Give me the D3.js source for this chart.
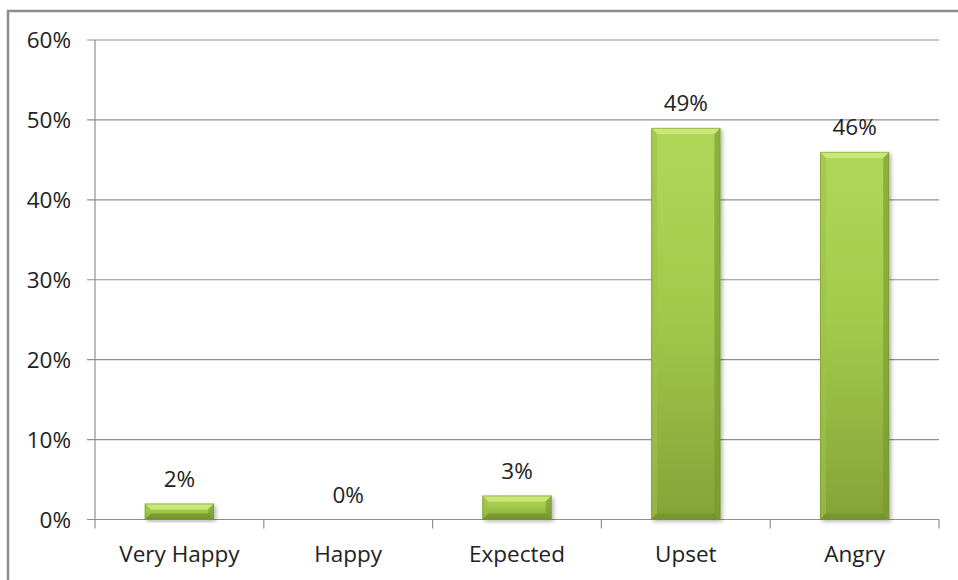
<!DOCTYPE html>
<html>
<head>
<meta charset="utf-8">
<script src="https://cdn.jsdelivr.net/npm/d3@7"></script>
<style>
  html, body { margin: 0; padding: 0; background: #fff; }
  svg { display: block; }
  text { font-family: "Open Sans", "Noto Sans", sans-serif; fill: #222; }
</style>
</head>
<body>
<svg id="chart" width="958" height="580"></svg>
<script>
// Survey responses: share of respondents per reaction
const categories = ["Very Happy", "Happy", "Expected", "Upset", "Angry"];
const shares = [2, 0, 3, 49, 46];
const valueLabels = ["2%", "0%", "3%", "49%", "46%"];
const yTicks = [0, 10, 20, 30, 40, 50, 60];

const svg = d3.select("#chart");
const plot = { left: 95, right: 939, top: 40, bottom: 519.5 };
const fontSize = "22.5px";

// Outer frame (open on the right and bottom)
svg.append("path")
  .attr("d", "M8,580 L8,11 L958,11")
  .attr("fill", "none")
  .attr("stroke", "#8c8c8c")
  .attr("stroke-width", 2.5);

const x = d3.scaleBand().domain(categories).range([plot.left, plot.right]).paddingInner(0.59).paddingOuter(0.295);
const xCat = d3.scaleBand().domain(categories).range([plot.left, plot.right]);
const y = d3.scaleLinear().domain([0, 60]).range([plot.bottom, plot.top]);

const defs = svg.append("defs");
const grad = defs.append("linearGradient").attr("id", "barFill").attr("x1", 0).attr("y1", 0).attr("x2", 0).attr("y2", 1);
grad.append("stop").attr("offset", "0%").attr("stop-color", "#b0d758");
grad.append("stop").attr("offset", "45%").attr("stop-color", "#a3cb4b");
grad.append("stop").attr("offset", "100%").attr("stop-color", "#84a338");
const shadow = defs.append("filter").attr("id", "barShadow").attr("x", "-20%").attr("y", "-20%").attr("width", "140%").attr("height", "140%");
shadow.append("feGaussianBlur").attr("in", "SourceAlpha").attr("stdDeviation", 2);
shadow.append("feOffset").attr("dx", 1.5).attr("dy", 2).attr("result", "off");
shadow.append("feComponentTransfer").append("feFuncA").attr("type", "linear").attr("slope", 0.3);
const merge = shadow.append("feMerge");
merge.append("feMergeNode");
merge.append("feMergeNode").attr("in", "SourceGraphic");

// Gridlines with a short tick out to the left
svg.append("g")
  .selectAll("line")
  .data(yTicks)
  .join("line")
  .attr("x1", plot.left - 8)
  .attr("x2", plot.right)
  .attr("y1", d => y(d))
  .attr("y2", d => y(d))
  .attr("stroke", "#8f8f8f")
  .attr("stroke-width", 1.2);

// Vertical value axis
svg.append("line")
  .attr("x1", plot.left).attr("x2", plot.left)
  .attr("y1", plot.top).attr("y2", plot.bottom + 9)
  .attr("stroke", "#8f8f8f").attr("stroke-width", 1.2);

// Category boundary ticks under the baseline
svg.append("g")
  .selectAll("line")
  .data(categories.slice(1).map(c => xCat(c)).concat([plot.right]))
  .join("line")
  .attr("x1", d => d).attr("x2", d => d)
  .attr("y1", plot.bottom).attr("y2", plot.bottom + 9)
  .attr("stroke", "#8f8f8f").attr("stroke-width", 1.2);

// Y tick labels
svg.append("g")
  .selectAll("text")
  .data(yTicks)
  .join("text")
  .attr("x", 71)
  .attr("y", d => y(d))
  .attr("dy", "0.36em")
  .attr("text-anchor", "end")
  .style("font-size", fontSize)
  .text(d => d + "%");

// Bars with a bevelled look
const bars = svg.append("g")
  .selectAll("g")
  .data(categories.map((c, i) => ({ c, v: shares[i], label: valueLabels[i] })))
  .join("g");

bars.filter(d => d.v > 0).each(function (d) {
  const g = d3.select(this);
  const x0 = x(d.c), w = x.bandwidth();
  const y0 = y(d.v), h = y(0) - y(d.v);
  const b = Math.min(6, h / 2);
  g.append("rect")
    .attr("x", x0).attr("y", y0).attr("width", w).attr("height", h)
    .attr("fill", "url(#barFill)")
    .attr("filter", "url(#barShadow)");
  // top bevel
  g.append("path")
    .attr("d", `M${x0},${y0} L${x0 + w},${y0} L${x0 + w - b},${y0 + b} L${x0 + b},${y0 + b} Z`)
    .attr("fill", "#d3ee84").attr("opacity", 0.75);
  // left bevel
  g.append("path")
    .attr("d", `M${x0},${y0} L${x0 + b},${y0 + b} L${x0 + b},${y0 + h - b} L${x0},${y0 + h} Z`)
    .attr("fill", "#9dc346").attr("opacity", 0.6);
  // right bevel
  g.append("path")
    .attr("d", `M${x0 + w},${y0} L${x0 + w - b},${y0 + b} L${x0 + w - b},${y0 + h - b} L${x0 + w},${y0 + h} Z`)
    .attr("fill", "#779630").attr("opacity", 0.6);
  // bottom bevel
  g.append("path")
    .attr("d", `M${x0},${y0 + h} L${x0 + b},${y0 + h - b} L${x0 + w - b},${y0 + h - b} L${x0 + w},${y0 + h} Z`)
    .attr("fill", "#6f8e2a").attr("opacity", 0.7);
  g.append("rect")
    .attr("x", x0 + 0.5).attr("y", y0 + 0.5).attr("width", w - 1).attr("height", h - 1)
    .attr("fill", "none").attr("stroke", "#718f2e").attr("stroke-width", 1).attr("opacity", 0.5);
});

// Value labels above bars
bars.append("text")
  .attr("x", d => x(d.c) + x.bandwidth() / 2)
  .attr("y", d => y(d.v) - 17)
  .attr("text-anchor", "middle")
  .style("font-size", fontSize)
  .text(d => d.label);

// Category labels
svg.append("g")
  .selectAll("text")
  .data(categories)
  .join("text")
  .attr("x", d => xCat(d) + xCat.bandwidth() / 2)
  .attr("y", 562)
  .attr("text-anchor", "middle")
  .style("font-size", fontSize)
  .text(d => d);
</script>
</body>
</html>
